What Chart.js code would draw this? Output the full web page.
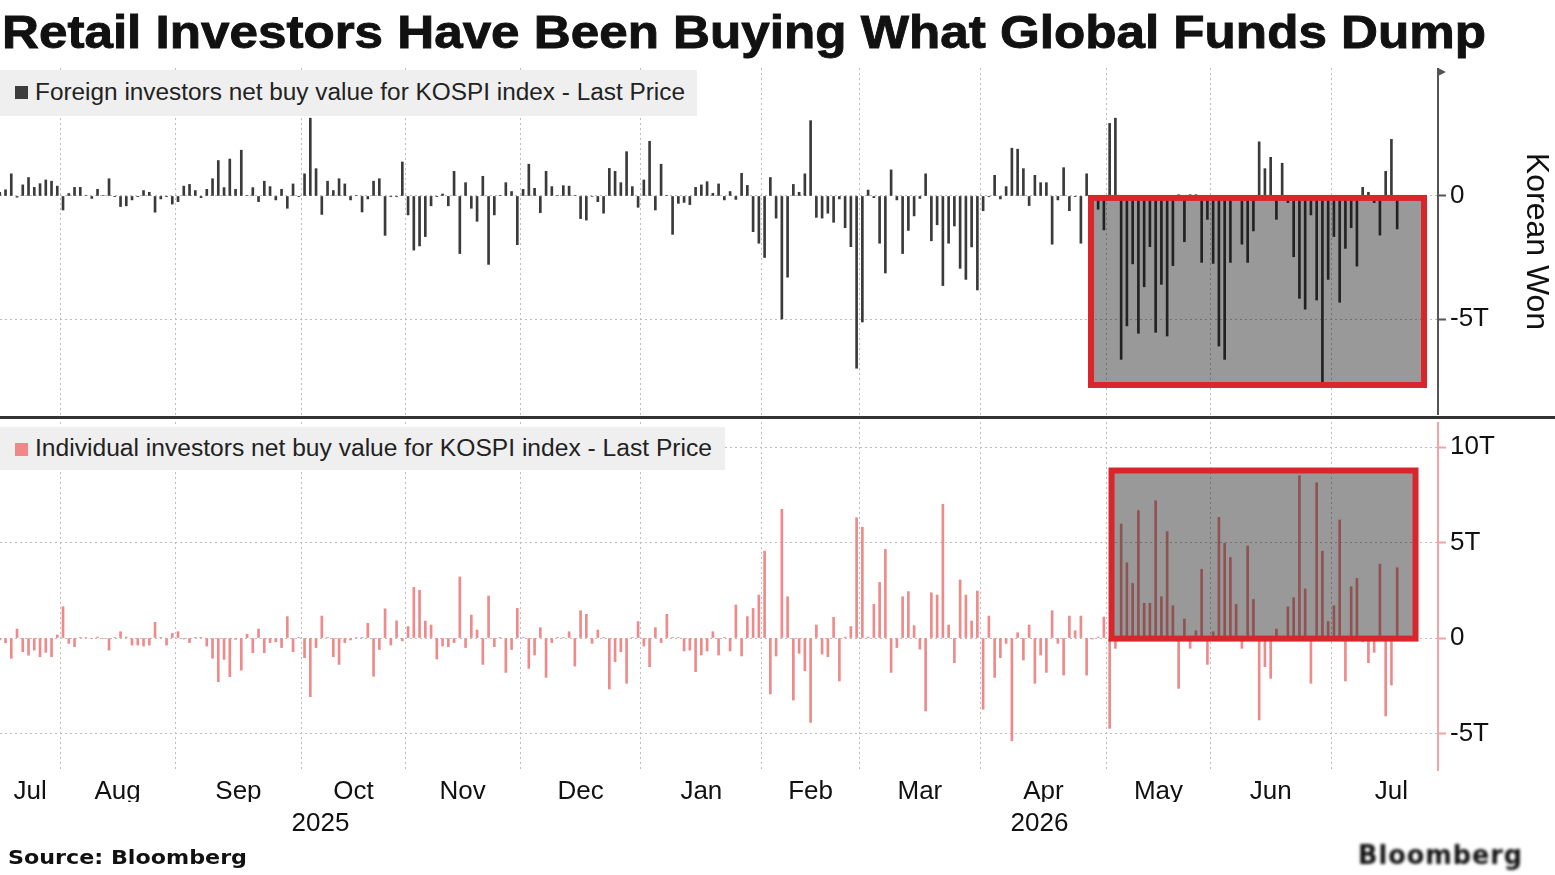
<!DOCTYPE html>
<html>
<head>
<meta charset="utf-8">
<script src="https://cdn.jsdelivr.net/npm/chart.js@4/dist/chart.umd.min.js"></script>
<style>
  html, body { margin: 0; padding: 0; background: #fff; }
  body { width: 1555px; height: 875px; position: relative; overflow: hidden; font-family: "Liberation Sans", Arial, sans-serif; color: #111; }
  .abs { position: absolute; white-space: nowrap; transform-origin: 0 0; }
  #title { left: 2px; top: 5px; font-size: 46px; font-weight: bold; -webkit-text-stroke: 0.9px #111; }
  .legend { position: absolute; left: 0; background: #efefef; }
  .legend .sw { position: absolute; left: 15px; width: 13px; height: 13px; }
  .legend .txt { position: absolute; left: 35px; font-size: 23px; color: #222; white-space: nowrap; transform-origin: 0 0; }
  #sep { position: absolute; left: 0; top: 416px; width: 1555px; height: 3px; background: #333; }
  canvas { position: absolute; left: 0; }
  #source { left: 8px; top: 845px; font-family: "DejaVu Sans", sans-serif; font-weight: bold; font-size: 20px; }
  #logo { left: 1358px; top: 840px; font-family: "DejaVu Sans", sans-serif; font-weight: bold; font-size: 26px; filter: blur(1.6px); letter-spacing: 1px; }
</style>
</head>
<body>
<div id="title" class="abs">Retail Investors Have Been Buying What Global Funds Dump</div>

<canvas id="topChart" width="1555" height="347" style="top:68px"></canvas>
<div id="sep"></div>
<canvas id="bottomChart" width="1555" height="453" style="top:422px"></canvas>

<div class="legend" style="top:70px; width:697px; height:46px;">
  <div class="sw" style="top:16px; background:#3d3d3d;"></div>
  <div class="txt" id="legTop" style="top:9px;">Foreign investors net buy value for KOSPI index - Last Price</div>
</div>
<div class="legend" style="top:427px; width:725px; height:43px;">
  <div class="sw" style="top:16px; background:#f08888;"></div>
  <div class="txt" id="legBottom" style="top:8px;">Individual investors net buy value for KOSPI index - Last Price</div>
</div>

<div id="source" class="abs">Source: Bloomberg</div>
<div id="logo" class="abs">Bloomberg</div>

<script>
// trading days shown in each month, Jul 2025 .. Jul 2026
const monthLabels = ['Jul', 'Aug', 'Sep', 'Oct', 'Nov', 'Dec', 'Jan', 'Feb', 'Mar', 'Apr', 'May', 'Jun', 'Jul'];
const daysPerMonth = [11, 20, 22, 18, 20, 21, 21, 17, 21, 22, 18, 21, 12];
const yearLabels = ['2025', '2026'];
const yearStartMonth = [0, 6];

// net buy value, trillion won, one value per trading day
const foreignNet = [
  0.15, 0.25, 0.9, -0.05, 0.45, 0.75, 0.35, 0.5, 0.65, 0.6, 0.4,
  -0.57, 0.1, 0.35, 0.35, 0.02, -0.1, 0.27, 0.02, 0.7, -0.03, -0.43, -0.4, -0.16, -0.03, 0.22, 0.15, -0.66, -0.12, -0.03, -0.33,
  -0.23, 0.4, 0.47, 0.22, -0.07, 0.27, 0.7, 1.44, 0.34, 1.5, 0.27, 1.86, 0.02, 0.34, -0.23, 0.6, 0.38, -0.16, 0.27, -0.5, 0.49, -0.03,
  0.9, 3.16, 1.11, -0.75, 0.6, 0.22, 0.7, 0.49, -0.16, 0.02, -0.65, -0.12, 0.6, 0.7, -1.6, -0.03, -0.03, 1.38,
  -0.77, -2.2, -2.03, -1.65, -0.4, -0.03, 0.08, -0.4, 1.0, -2.34, 0.54, -0.5, -1.03, 0.8, -2.78, -0.77, 0.02, 0.54, 0.18, -1.98,
  0.27, 1.29, 0.31, -0.68, 1.0, 0.38, 0.02, 0.42, 0.4, 0.02, -0.92, -0.98, -0.02, -0.23, -0.7, 1.12, 1.0, 0.54, 1.8, 0.38, -0.46,
  0.65, 2.22, -0.57, 1.29, 0.02, -1.56, -0.3, -0.26, -0.35, 0.35, 0.45, 0.58, 0.11, 0.49, -0.16, 0.18, -0.14, 0.92, 0.43, -1.45, -1.92,
  -2.5, 0.75, -0.9, -5.0, -3.3, 0.47, 0.15, 0.9, 3.06, -0.87, -0.9, -0.7, -1.07, -0.12, -1.29, -2.06, -7.0,
  -5.12, 0.24, -0.07, -1.92, -3.13, 1.06, -0.16, -2.34, -1.4, -0.81, -0.1, 0.9, -1.82, -1.17, -3.64, -1.92, -1.22, -2.94, -3.39, -2.07, -3.82,
  -0.6, -0.03, 0.84, -0.12, 0.38, 1.94, 1.9, 1.11, -0.39, 0.84, 0.54, 0.54, -1.96, -0.16, 1.15, -0.6, -0.03, -1.92, 0.9, -0.1, -0.54, -1.38,
  2.95, 3.16, -6.64, -5.28, -2.76, -5.58, -3.69, -2.06, -5.54, -3.59, -5.69, -2.83, 0.05, -1.86, 0.05, 0.05, -2.7, -0.95,
  -2.74, -6.1, -6.64, -2.7, -0.05, -1.96, -2.7, -1.42, 2.2, 1.11, 1.57, -0.95, 1.33, -0.27, -2.47, -4.16, -4.6, -0.77, -4.23, -7.6, -3.39,
  -1.65, -4.32, -2.13, -1.29, -2.85, 0.35, 0.15, -0.27, -1.59, 1.0, 2.3, -1.34
];
const individualNet = [
  -0.1, -0.25, -1.06, 0.47, -0.72, -0.9, -0.63, -0.98, -0.75, -0.98, 0.16,
  1.64, -0.28, -0.45, 0.02, 0.03, -0.03, 0.05, -0.03, -0.63, 0.02, 0.33, 0.05, -0.37, -0.37, -0.42, -0.37, 0.82, 0.02, -0.37, 0.24,
  0.33, -0.05, -0.24, 0.02, 0.02, -0.42, -1.06, -2.29, -1.12, -2.02, -0.07, -1.68, 0.2, -0.77, 0.47, -0.77, -0.24, -0.2, -0.5, 1.12, -0.72, 0.02,
  -1.03, -3.07, -0.5, 1.15, 0.02, -0.98, -1.38, -0.24, -0.1, 0.02, 0.02, 0.77, -2.0, -0.6, 1.53, -0.37, 0.9, -0.15,
  0.6, 2.65, 2.5, 0.89, 0.68, -1.1, -0.42, -0.45, -0.24, 3.2, -0.5, 1.2, 0.42, -1.38, 2.2, -0.45, 0.02, -1.8, -0.6, 1.55,
  0.02, -1.59, -0.89, 0.54, -2.06, -0.24, 0.02, 0.02, 0.33, -1.47, 1.43, 1.24, -0.28, 0.42, 0.02, -2.67, -1.24, -0.72, -2.37, 0.02, 0.86,
  -0.42, -1.5, 0.54, -0.24, 1.24, 0.02, 0.02, -0.68, -0.63, -1.76, -0.89, -0.68, 0.33, -0.89, 0.02, -0.68, 1.73, -0.94, 1.12, 1.55, 2.25,
  4.55, -2.93, -0.94, 6.74, 2.16, -3.25, -0.8, -1.71, -4.42, 0.68, -0.84, -0.98, 1.08, -2.25, 0.05, 0.6, 6.3,
  5.8, 0.05, 1.76, 2.91, 4.64, -1.8, -0.5, 2.16, 2.43, 0.65, -0.58, -3.82, 2.37, 2.25, 7.0, 0.68, -1.29, 3.04, 2.25, 0.89, 2.46,
  -3.73, 1.15, -2.06, -1.03, -0.28, -5.38, 0.28, -1.15, 0.68, -2.37, -0.89, -1.8, 1.43, -0.28, -1.94, 1.15, 0.38, 1.15, -1.94, -0.05, 0.05, 1.1,
  -4.73, -0.54, 5.97, 3.94, 2.86, 6.67, 1.82, 1.82, 7.19, 2.16, 5.57, 1.69, -2.64, 1.0, -0.54, 0.38, 3.6, -1.38,
  0.33, 6.32, 4.96, 4.22, 1.76, -0.54, 4.82, 2.02, -4.29, -1.5, -2.11, 0.47, -0.1, 1.64, 2.11, 8.5, 2.57, -2.37, 8.13, 4.55, 0.86,
  1.69, 6.18, -2.25, 2.69, 3.12, -0.2, -1.29, -0.75, 3.87, -4.08, -2.46, 3.68
];

// highlighted stretches (trading-day index, trillion won)
const foreignBox = { x0: 189.76, x1: 247.67, y0: -7.68, y1: -0.08 };
const individualBox = { x0: 193.33, x1: 246.19, y0: -0.03, y1: 8.77 };

const xMin = 0.04, xMax = 250.1;
const labelFont = { family: '"Liberation Sans", Arial, sans-serif', size: 26 };

// month boundaries and label positions from the day counts
const monthBounds = [];
let start = 0;
daysPerMonth.forEach((n, i) => { if (i > 0) monthBounds.push(start - 0.5); start += n; });
const labelPos = monthLabels.map((m, i) => {
  if (i === 0) return (xMin + monthBounds[0]) / 2;
  if (i === monthLabels.length - 1) return monthBounds[i - 1] + (monthBounds[i - 1] - monthBounds[i - 2]) / 2;
  return (monthBounds[i - 1] + monthBounds[i]) / 2;
});
// year labels sit in the middle of the part of the axis each year covers
const yearPos = yearStartMonth.map((m, i) => {
  const a = m === 0 ? xMin : monthBounds[m - 1];
  const b = i + 1 < yearStartMonth.length ? monthBounds[yearStartMonth[i + 1] - 1] : xMax;
  return (a + b) / 2;
});

const highlight = {
  id: 'highlight',
  afterDatasetsDraw(chart, args, opts) {
    const { ctx, scales: { x, y } } = chart;
    const b = opts.box;
    const l = x.getPixelForValue(b.x0), r = x.getPixelForValue(b.x1);
    const t = y.getPixelForValue(b.y1), btm = y.getPixelForValue(b.y0);
    ctx.save();
    ctx.fillStyle = 'rgba(0,0,0,0.4)';
    ctx.fillRect(l, t, r - l, btm - t);
    ctx.strokeStyle = '#d9262c';
    ctx.lineWidth = 6;
    ctx.strokeRect(l, t, r - l, btm - t);
    ctx.restore();
  }
};

function xGrid() {
  return {
    type: 'linear', min: xMin, max: xMax, offset: false, weight: 0,
    grid: { offset: false, color: '#bdbdbd', drawTicks: false },
    border: { display: false, dash: [2, 3] },
    ticks: { display: false },
    afterBuildTicks: s => { s.ticks = monthBounds.map(v => ({ value: v })); },
    afterFit: s => { s.height = 0; s.paddingLeft = 0; s.paddingRight = 0; }
  };
}

function xLabels(positions, texts, height, weight) {
  return {
    type: 'linear', position: 'bottom', min: xMin, max: xMax, offset: false, weight: weight,
    grid: { display: false, drawTicks: false }, border: { display: false },
    afterBuildTicks: s => { s.ticks = positions.map(v => ({ value: v })); },
    afterFit: s => { s.height = height; s.paddingLeft = 0; s.paddingRight = 0; },
    ticks: {
      autoSkip: false, maxRotation: 0, minRotation: 0, padding: 6, color: '#111',
      font: Object.assign({ lineHeight: 1.23 }, labelFont),
      callback: (v, i) => texts[i]
    }
  };
}

function yAxis(min, max, ticks, labelled, axisColor) {
  return {
    position: 'right', min: min, max: max,
    afterBuildTicks: s => { s.ticks = ticks.map(v => ({ value: v })); },
    afterFit: s => { s.width = 117; s.paddingTop = 0; s.paddingBottom = 0; },
    grid: {
      color: c => (c.tick && labelled.includes(c.tick.value)) ? '#bdbdbd' : 'rgba(0,0,0,0)',
      tickColor: axisColor, tickLength: 8, tickWidth: 2
    },
    border: { display: true, color: axisColor, width: 2, dash: [2, 3] },
    ticks: {
      color: '#111', font: labelFont, padding: 4, autoSkip: false,
      callback: v => labelled.includes(v) ? (v === 0 ? '0' : v + 'T') : null
    }
  };
}

const topY = yAxis(-8.9, 5.2, [-7.5, -5, -2.5, 0, 2.5], [-5, 0], '#555');
topY.title = { display: true, text: 'Korean Won', color: '#111', font: { family: labelFont.family, size: 32 }, padding: { top: 0, bottom: 2 } };

new Chart(document.getElementById('topChart'), {
  type: 'bar',
  data: { datasets: [{
    label: 'Foreign investors net buy value for KOSPI index - Last Price',
    data: foreignNet.map((v, i) => ({ x: i, y: v })),
    backgroundColor: '#3a3a3a', barThickness: 2, borderWidth: 0
  }] },
  options: {
    responsive: false, animation: false, devicePixelRatio: 1,
    layout: { padding: 0 },
    plugins: { legend: { display: false }, tooltip: { enabled: false }, highlight: { box: foreignBox } },
    scales: { x: xGrid(), y: topY }
  },
  plugins: [highlight, {
    id: 'axisArrow',
    afterDraw(chart) {
      const { ctx, chartArea } = chart;
      ctx.save();
      ctx.fillStyle = '#555';
      ctx.beginPath();
      ctx.moveTo(chartArea.right, chartArea.top);
      ctx.lineTo(chartArea.right + 8, chartArea.top + 4);
      ctx.lineTo(chartArea.right, chartArea.top + 8);
      ctx.fill();
      ctx.restore();
    }
  }]
});

new Chart(document.getElementById('bottomChart'), {
  type: 'bar',
  data: { datasets: [{
    label: 'Individual investors net buy value for KOSPI index - Last Price',
    data: individualNet.map((v, i) => ({ x: i, y: v })),
    backgroundColor: '#ee8a8a', barThickness: 2, borderWidth: 0
  }] },
  options: {
    responsive: false, animation: false, devicePixelRatio: 1,
    layout: { padding: 0 },
    plugins: { legend: { display: false }, tooltip: { enabled: false }, highlight: { box: individualBox } },
    scales: {
      x: xGrid(),
      months: xLabels(labelPos, monthLabels, 32, 1),
      years: xLabels(yearPos, yearLabels, 73, 2),
      y: yAxis(-6.91, 11.31, [-5, -2.5, 0, 2.5, 5, 7.5, 10], [-5, 0, 5, 10], '#f2a3a3')
    }
  },
  plugins: [highlight]
});

// squeeze the html texts to the widths they take in the original
function fitWidth(id, target) {
  const el = document.getElementById(id);
  const w = el.getBoundingClientRect().width;
  el.style.transform = 'scaleX(' + (target / w) + ')';
}
fitWidth('title', 1484);
fitWidth('legTop', 650);
fitWidth('legBottom', 677);
fitWidth('source', 239);
fitWidth('logo', 165);
</script>
</body>
</html>
